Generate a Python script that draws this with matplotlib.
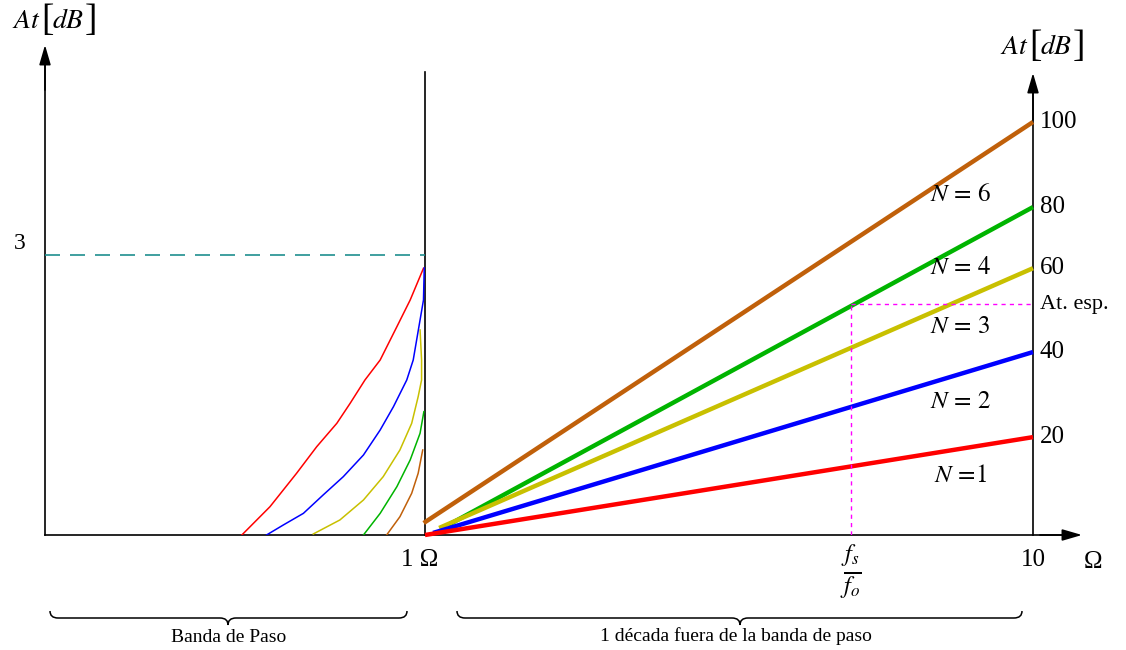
import numpy as np
import matplotlib
matplotlib.use("Agg")
from matplotlib import pyplot as plt
from matplotlib.path import Path
import matplotlib.patches as mpatches

plt.rcParams['font.family'] = ['Liberation Serif', 'DejaVu Serif']
plt.rcParams['mathtext.fontset'] = 'stix'

# ---- data ----
# banda de paso (Omega 0..1, At en dB)
red_pass_w = [0.518, 0.592, 0.662, 0.715, 0.768, 0.803, 0.842, 0.882, 0.926, 0.961, 0.996]
red_pass_db = [0.0, 0.303, 0.661, 0.946, 1.197, 1.411, 1.661, 1.875, 2.232, 2.518, 2.858]
blue_pass_w = [0.583, 0.627, 0.680, 0.732, 0.785, 0.838, 0.882, 0.917, 0.952, 0.969,
               0.987, 0.996, 0.998]
blue_pass_db = [0.0, 0.107, 0.232, 0.429, 0.625, 0.857, 1.125, 1.375, 1.661, 1.875,
                2.304, 2.518, 2.861]
yel_pass_w = [0.706, 0.776, 0.838, 0.890, 0.934, 0.965, 0.982, 0.991, 0.991, 0.987]
yel_pass_db = [0.011, 0.161, 0.375, 0.625, 0.911, 1.197, 1.482, 1.661, 1.875, 2.197]
grn_pass_w = [0.838, 0.882, 0.926, 0.961, 0.987, 0.997]
grn_pass_db = [0.0, 0.232, 0.518, 0.804, 1.090, 1.321]
brn_pass_w = [0.899, 0.934, 0.965, 0.982, 0.994]
brn_pass_db = [0.0, 0.196, 0.447, 0.661, 0.911]

# fuera de banda (Omega 1..10 log, At en dB)
stop_w = {'N1': [1.0, 10.0], 'N2': [1.031, 10.0], 'N3': [1.055, 10.0],
          'N4': [1.091, 10.0], 'N6': [0.995, 10.0]}
stop_db = {'N1': [0.0, 23.7], 'N2': [0.5, 44.3], 'N3': [1.7, 64.6],
           'N4': [2.4, 79.4], 'N6': [2.9, 100.0]}
tick_vals = [23.7, 44.3, 64.6, 79.4, 100.0]
tick_labels = ['20', '40', '60', '80', '100']
at_esp = 55.9
fs_fo = 5.01
n_labels = [r'$N\,=\,6$', r'$N\,=\,4$', r'$N\,=\,3$', r'$N\,=\,2$', r'$N\,=\!1$']
n_label_db = [82.3, 64.6, 50.4, 32.2, 14.3]

colors = {'N1': '#ff0000', 'N2': '#0000ff', 'N3': '#c8c000',
          'N4': '#00b400', 'N6': '#c0600a'}

W, H = 1126, 650
fig = plt.figure(figsize=(W / 100, H / 100), dpi=100)

def frac(x0, y0, x1, y1):
    # caja en pixeles -> fraccion de figura
    return [x0 / W, (H - y1) / H, (x1 - x0) / W, (y1 - y0) / H]

ax_bg = fig.add_axes([0, 0, 1, 1])
ax_bg.set_xlim(0, W)
ax_bg.set_ylim(H, 0)
ax_bg.axis('off')

ax_l = fig.add_axes(frac(45, 45, 425, 535))
ax_l.set_xlim(0, 1)
ax_l.set_ylim(0, 490 / 93.33)
ax_l.axis('off')
ax_l.patch.set_alpha(0)

ax_r = fig.add_axes(frac(425, 73, 1033, 535))
ax_r.set_xscale('log')
ax_r.set_xlim(1, 10)
ax_r.set_ylim(0, 462 / 4.13)
ax_r.axis('off')
ax_r.patch.set_alpha(0)

# ejes
k = dict(color='black', lw=1.2)
ax_bg.plot([45, 1075], [535, 535], **k)
ax_bg.plot([425, 425], [72, 535], **k)
ax_bg.plot([1033, 1033], [78, 535], **k)
ax_bg.plot([45, 45], [52, 535], **k)
arr = dict(arrowstyle='-|>,head_length=1.2,head_width=0.35', color='black', lw=1.2,
           shrinkA=0, shrinkB=0)
ax_bg.annotate('', xy=(45, 45), xytext=(45, 90), arrowprops=arr)
ax_bg.annotate('', xy=(1033, 73), xytext=(1033, 120), arrowprops=arr)
ax_bg.annotate('', xy=(1082, 535), xytext=(1040, 535), arrowprops=arr)

# banda de paso
ax_l.plot([0, 1], [3, 3], color='#1f8f8f', lw=1.2, dashes=(9, 6))
for w, db, c in [(red_pass_w, red_pass_db, colors['N1']),
                 (blue_pass_w, blue_pass_db, colors['N2']),
                 (yel_pass_w, yel_pass_db, colors['N3']),
                 (grn_pass_w, grn_pass_db, colors['N4']),
                 (brn_pass_w, brn_pass_db, colors['N6'])]:
    ax_l.plot(w, db, color=c, lw=1.1)
ax_l.text(-0.066, 3.12, '3', fontsize=17, ha='center', va='center')

# fuera de banda
for key in ['N6', 'N4', 'N3', 'N2', 'N1']:
    ax_r.plot(stop_w[key], stop_db[key], color=colors[key], lw=3.2,
              solid_capstyle='butt', clip_on=False)
ax_r.plot([fs_fo, 10], [at_esp, at_esp], color='magenta', lw=1, ls=(0, (3, 3)))
ax_r.plot([fs_fo, fs_fo], [0, at_esp], color='magenta', lw=1, ls=(0, (3, 3)))
for v, t in zip(tick_vals, tick_labels):
    ax_r.annotate(t, (10, v), xytext=(5, 0), textcoords='offset points',
                  fontsize=18, va='center', ha='left', annotation_clip=False)
ax_r.annotate('At. esp.', (10, at_esp), xytext=(5, 0), textcoords='offset points',
              fontsize=16, va='center', ha='left', annotation_clip=False)
for t, v in zip(n_labels, n_label_db):
    ax_r.text(7.6, v, t, fontsize=18, ha='center', va='center')

# rotulo At[dB] con corchetes grandes
def at_db(ax, x, y):
    ax.text(x, y, r'$At$', fontsize=20, ha='left', va='center')
    ax.text(x + 29, y - 1, '[', fontsize=27, ha='left', va='center')
    ax.text(x + 40, y, r'$dB$', fontsize=20, ha='left', va='center')
    ax.text(x + 73, y - 1, ']', fontsize=27, ha='left', va='center')

at_db(ax_bg, 12, 22)
at_db(ax_bg, 1000, 48)
ax_bg.text(420, 560, '1 Ω', fontsize=18, ha='center', va='center')
ax_bg.text(1033, 560, '10', fontsize=18, ha='center', va='center')
ax_bg.text(1093, 562, 'Ω', fontsize=18, ha='center', va='center')
ax_bg.text(851, 572, r'$\frac{f_s}{f_o}$', fontsize=25, ha='center', va='center')

def brace(ax, x1, x2, xm, y, h=7, r=8):
    verts = [(x1, y - h), (x1, y), (x1 + r, y), (xm - r, y), (xm, y), (xm, y + h),
             (xm, y), (xm + r, y), (x2 - r, y), (x2, y), (x2, y - h)]
    codes = [Path.MOVETO, Path.CURVE3, Path.CURVE3, Path.LINETO, Path.CURVE3, Path.CURVE3,
             Path.CURVE3, Path.CURVE3, Path.LINETO, Path.CURVE3, Path.CURVE3]
    ax.add_patch(mpatches.PathPatch(Path(verts, codes), fill=False, lw=1.1, color='black'))

brace(ax_bg, 50, 407, 228, 618)
brace(ax_bg, 457, 1022, 740, 618)
ax_bg.text(229, 638, 'Banda de Paso', fontsize=14, ha='center', va='center')
ax_bg.text(736, 636, '1 década fuera de la banda de paso', fontsize=14, ha='center', va='center')

fig.savefig('out.png', dpi=100)
